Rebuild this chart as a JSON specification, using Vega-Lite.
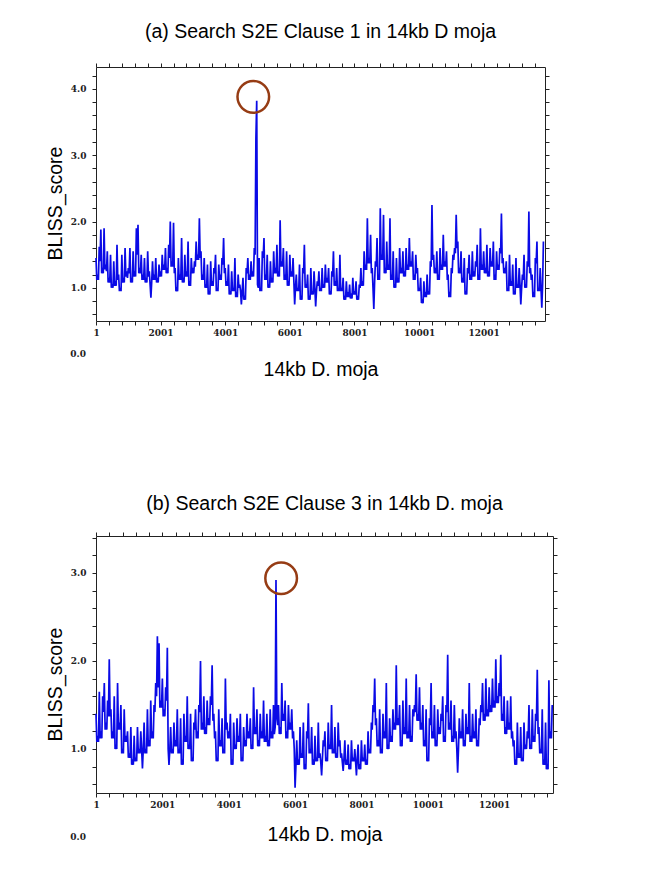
{
"$schema": "https://vega.github.io/schema/vega-lite/v6.json",
"background": "white",
"padding": {"left": 44, "top": 21, "right": 10, "bottom": 5},
"spacing": 114,
"config": {
  "view": {"stroke": "#222", "strokeWidth": 1},
  "axis": {"grid": false, "domain": false, "tickColor": "#222", "tickSize": 4, "labelFont": "DejaVu Serif", "labelFontWeight": "bold", "labelFontSize": 9, "labelColor": "#222", "titleFont": "Liberation Sans", "titleFontWeight": "normal", "titleFontSize": 19.5, "titleColor": "#000"},
  "title": {"font": "Liberation Sans", "fontSize": 19.5, "fontWeight": "normal", "color": "#000"}
},
"datasets": {
"a": [
{"pos":1,"score":1.45},{"pos":51,"score":1.2},{"pos":101,"score":1.62},{"pos":151,"score":1.88},{"pos":201,"score":1.3},{"pos":251,"score":1.9},{"pos":301,"score":1.35},{"pos":351,"score":1.55},
{"pos":401,"score":1.15},{"pos":451,"score":1.5},{"pos":501,"score":1.05},{"pos":551,"score":1.4},{"pos":601,"score":1.1},{"pos":651,"score":1.65},{"pos":701,"score":1.2},{"pos":751,"score":1.0},{"pos":801,"score":1.5},{"pos":851,"score":1.15},{"pos":901,"score":1.6},{"pos":951,"score":1.25},
{"pos":1001,"score":1.3},{"pos":1051,"score":1.6},{"pos":1101,"score":1.15},{"pos":1151,"score":1.55},{"pos":1201,"score":1.25},{"pos":1251,"score":1.9},{"pos":1301,"score":1.95},{"pos":1351,"score":1.3},
{"pos":1401,"score":1.5},{"pos":1451,"score":1.2},{"pos":1501,"score":1.45},{"pos":1551,"score":1.15},{"pos":1601,"score":1.55},{"pos":1651,"score":1.25},
{"pos":1701,"score":0.85},
{"pos":1751,"score":1.4},{"pos":1801,"score":1.2},{"pos":1851,"score":1.45},{"pos":1901,"score":1.15},{"pos":1951,"score":1.35},{"pos":2001,"score":1.25},{"pos":2051,"score":1.5},
{"pos":2101,"score":1.35},{"pos":2151,"score":1.6},{"pos":2201,"score":1.3},{"pos":2251,"score":1.65},{"pos":2301,"score":2.0},{"pos":2351,"score":1.4},{"pos":2401,"score":1.98},
{"pos":2451,"score":1.3},{"pos":2501,"score":0.98},{"pos":2551,"score":1.45},{"pos":2601,"score":1.2},{"pos":2651,"score":1.75},{"pos":2701,"score":1.15},{"pos":2751,"score":1.5},{"pos":2801,"score":1.25},{"pos":2851,"score":1.7},{"pos":2901,"score":1.1},{"pos":2951,"score":1.45},{"pos":3001,"score":1.3},
{"pos":3051,"score":1.4},{"pos":3101,"score":1.7},{"pos":3151,"score":1.5},{"pos":3201,"score":2.05},{"pos":3251,"score":1.55},
{"pos":3301,"score":1.2},{"pos":3351,"score":1.45},{"pos":3401,"score":1.05},{"pos":3451,"score":1.35},{"pos":3501,"score":0.95},{"pos":3551,"score":1.4},{"pos":3601,"score":1.1},{"pos":3651,"score":1.3},{"pos":3701,"score":1.5},{"pos":3751,"score":1.0},{"pos":3801,"score":1.35},
{"pos":3851,"score":1.2},{"pos":3901,"score":1.45},{"pos":3951,"score":1.75},{"pos":4001,"score":1.3},
{"pos":4051,"score":1.1},{"pos":4101,"score":1.35},{"pos":4151,"score":0.95},{"pos":4201,"score":1.25},{"pos":4251,"score":1.0},{"pos":4301,"score":1.45},{"pos":4351,"score":0.9},{"pos":4401,"score":1.2},{"pos":4451,"score":1.05},{"pos":4501,"score":0.75},{"pos":4551,"score":1.15},{"pos":4601,"score":0.85},
{"pos":4651,"score":1.3},{"pos":4701,"score":1.45},{"pos":4751,"score":1.2},{"pos":4801,"score":1.4},{"pos":4851,"score":1.25},{"pos":4901,"score":1.6},
{"pos":4951,"score":3.25},{"pos":4976,"score":3.82},
{"pos":5001,"score":1.05},{"pos":5051,"score":1.45},{"pos":5101,"score":1.0},{"pos":5151,"score":1.55},{"pos":5201,"score":1.75},{"pos":5251,"score":1.2},{"pos":5301,"score":1.5},{"pos":5351,"score":1.05},{"pos":5401,"score":1.4},{"pos":5451,"score":1.15},{"pos":5501,"score":1.55},
{"pos":5551,"score":1.3},{"pos":5601,"score":1.65},{"pos":5651,"score":1.25},{"pos":5701,"score":2.02},{"pos":5751,"score":1.4},{"pos":5801,"score":1.6},
{"pos":5851,"score":1.2},{"pos":5901,"score":1.55},{"pos":5951,"score":1.1},{"pos":6001,"score":1.5},{"pos":6051,"score":1.25},{"pos":6101,"score":1.45},{"pos":6151,"score":0.75},{"pos":6201,"score":1.2},
{"pos":6251,"score":1.0},{"pos":6301,"score":1.35},{"pos":6351,"score":0.85},{"pos":6401,"score":1.3},{"pos":6451,"score":1.65},{"pos":6501,"score":1.05},
{"pos":6551,"score":1.2},{"pos":6601,"score":0.85},{"pos":6651,"score":1.3},{"pos":6701,"score":0.95},{"pos":6751,"score":1.25},{"pos":6801,"score":0.72},{"pos":6851,"score":1.1},
{"pos":6901,"score":1.25},{"pos":6951,"score":1.0},{"pos":7001,"score":1.3},{"pos":7051,"score":1.05},{"pos":7101,"score":1.35},{"pos":7151,"score":1.15},{"pos":7201,"score":1.3},{"pos":7251,"score":0.95},{"pos":7301,"score":1.25},{"pos":7351,"score":1.55},{"pos":7401,"score":1.1},{"pos":7451,"score":1.3},{"pos":7501,"score":1.0},{"pos":7551,"score":1.5},
{"pos":7601,"score":1.0},{"pos":7651,"score":1.15},{"pos":7701,"score":0.85},{"pos":7751,"score":1.1},{"pos":7801,"score":0.9},{"pos":7851,"score":1.05},{"pos":7901,"score":0.88},{"pos":7951,"score":1.15},{"pos":8001,"score":0.95},{"pos":8051,"score":1.1},{"pos":8101,"score":0.85},{"pos":8151,"score":1.05},
{"pos":8201,"score":1.3},{"pos":8251,"score":1.1},{"pos":8301,"score":1.55},{"pos":8351,"score":1.35},{"pos":8401,"score":2.05},{"pos":8451,"score":1.45},{"pos":8501,"score":1.8},{"pos":8551,"score":1.3},
{"pos":8601,"score":0.68},
{"pos":8651,"score":1.4},{"pos":8701,"score":1.75},{"pos":8751,"score":1.2},{"pos":8801,"score":2.2},{"pos":8851,"score":1.5},{"pos":8901,"score":2.1},{"pos":8951,"score":1.3},{"pos":9001,"score":1.7},
{"pos":9051,"score":1.35},{"pos":9101,"score":2.05},{"pos":9151,"score":1.2},{"pos":9201,"score":1.55},{"pos":9251,"score":1.05},{"pos":9301,"score":1.45},{"pos":9351,"score":1.15},{"pos":9401,"score":1.6},
{"pos":9451,"score":1.3},{"pos":9501,"score":1.55},{"pos":9551,"score":1.25},{"pos":9601,"score":1.6},{"pos":9651,"score":1.35},{"pos":9701,"score":1.75},{"pos":9751,"score":1.4},{"pos":9801,"score":1.55},{"pos":9851,"score":1.2},{"pos":9901,"score":1.5},{"pos":9951,"score":1.3},
{"pos":10001,"score":1.0},{"pos":10051,"score":1.15},{"pos":10101,"score":0.8},{"pos":10151,"score":1.1},{"pos":10201,"score":0.9},{"pos":10251,"score":1.2},{"pos":10301,"score":0.95},
{"pos":10351,"score":1.4},{"pos":10401,"score":2.25},{"pos":10451,"score":1.5},
{"pos":10501,"score":1.3},{"pos":10551,"score":1.55},{"pos":10601,"score":1.2},{"pos":10651,"score":1.6},{"pos":10701,"score":1.35},{"pos":10751,"score":1.8},{"pos":10801,"score":1.4},{"pos":10851,"score":1.55},{"pos":10901,"score":1.2},{"pos":10951,"score":0.9},{"pos":11001,"score":1.3},{"pos":11051,"score":1.5},
{"pos":11101,"score":1.6},{"pos":11151,"score":2.1},{"pos":11201,"score":1.7},
{"pos":11251,"score":1.3},{"pos":11301,"score":1.55},{"pos":11351,"score":1.15},{"pos":11401,"score":1.45},{"pos":11451,"score":0.95},{"pos":11501,"score":1.3},{"pos":11551,"score":1.5},{"pos":11601,"score":1.2},{"pos":11651,"score":1.55},{"pos":11701,"score":1.25},
{"pos":11751,"score":1.4},{"pos":11801,"score":1.65},{"pos":11851,"score":1.2},{"pos":11901,"score":1.9},{"pos":11951,"score":1.35},{"pos":12001,"score":1.55},
{"pos":12051,"score":1.3},{"pos":12101,"score":1.65},{"pos":12151,"score":1.25},{"pos":12201,"score":1.6},{"pos":12251,"score":1.4},{"pos":12301,"score":1.7},{"pos":12351,"score":1.2},{"pos":12401,"score":1.55},{"pos":12451,"score":1.35},{"pos":12501,"score":1.6},{"pos":12551,"score":2.12},{"pos":12601,"score":1.45},{"pos":12651,"score":1.3},
{"pos":12701,"score":1.4},{"pos":12751,"score":1.0},{"pos":12801,"score":1.5},{"pos":12851,"score":1.1},{"pos":12901,"score":1.35},{"pos":12951,"score":0.95},{"pos":13001,"score":1.45},{"pos":13051,"score":1.05},{"pos":13101,"score":1.3},{"pos":13151,"score":0.75},
{"pos":13201,"score":1.2},{"pos":13251,"score":1.5},{"pos":13301,"score":1.05},{"pos":13351,"score":1.4},{"pos":13401,"score":2.15},{"pos":13451,"score":1.3},
{"pos":13501,"score":1.2},{"pos":13551,"score":0.9},{"pos":13601,"score":1.45},{"pos":13651,"score":1.7},{"pos":13701,"score":1.0},{"pos":13751,"score":1.3},{"pos":13801,"score":0.7},{"pos":13851,"score":1.7},
{"pos":26,"score":1.12},{"pos":76,"score":1.12},{"pos":126,"score":1.4},{"pos":176,"score":1.22},{"pos":226,"score":1.22},{"pos":276,"score":1.28},{"pos":326,"score":1.25},{"pos":376,"score":1.08},{"pos":426,"score":1.08},{"pos":476,"score":1.0},
{"pos":526,"score":1.0},{"pos":576,"score":1.03},{"pos":626,"score":1.03},{"pos":676,"score":1.12},{"pos":726,"score":0.95},{"pos":776,"score":0.95},{"pos":826,"score":1.08},{"pos":876,"score":1.08},{"pos":926,"score":1.17},{"pos":976,"score":1.15},
{"pos":1026,"score":1.22},{"pos":1076,"score":1.08},{"pos":1126,"score":1.08},{"pos":1176,"score":1.17},{"pos":1226,"score":1.17},{"pos":1276,"score":1.5},{"pos":1326,"score":1.22},{"pos":1376,"score":1.22},{"pos":1426,"score":1.12},{"pos":1476,"score":1.12},
{"pos":1526,"score":1.08},{"pos":1576,"score":1.08},{"pos":1626,"score":1.17},{"pos":1676,"score":1.05},{"pos":1726,"score":1.1},{"pos":1776,"score":1.12},{"pos":1826,"score":1.12},{"pos":1876,"score":1.08},{"pos":1926,"score":1.08},{"pos":1976,"score":1.17},
{"pos":2026,"score":1.17},{"pos":2076,"score":1.27},{"pos":2126,"score":1.27},{"pos":2176,"score":1.22},{"pos":2226,"score":1.22},{"pos":2276,"score":1.45},{"pos":2326,"score":1.32},{"pos":2376,"score":1.32},{"pos":2426,"score":1.22},{"pos":2476,"score":0.95},
{"pos":2526,"score":0.95},{"pos":2576,"score":1.12},{"pos":2626,"score":1.12},{"pos":2676,"score":1.08},{"pos":2726,"score":1.08},{"pos":2776,"score":1.17},{"pos":2826,"score":1.17},{"pos":2876,"score":1.03},{"pos":2926,"score":1.03},{"pos":2976,"score":1.22},
{"pos":3026,"score":1.22},{"pos":3076,"score":1.32},{"pos":3126,"score":1.42},{"pos":3176,"score":1.42},{"pos":3226,"score":1.45},{"pos":3276,"score":1.12},{"pos":3326,"score":1.12},{"pos":3376,"score":1.0},{"pos":3426,"score":1.0},{"pos":3476,"score":0.9},
{"pos":3526,"score":0.9},{"pos":3576,"score":1.03},{"pos":3626,"score":1.03},{"pos":3676,"score":1.22},{"pos":3726,"score":0.95},{"pos":3776,"score":0.95},{"pos":3826,"score":1.12},{"pos":3876,"score":1.12},{"pos":3926,"score":1.35},{"pos":3976,"score":1.22},
{"pos":4026,"score":1.03},{"pos":4076,"score":1.03},{"pos":4126,"score":0.9},{"pos":4176,"score":0.9},{"pos":4226,"score":0.95},{"pos":4276,"score":0.95},{"pos":4326,"score":0.86},{"pos":4376,"score":0.86},{"pos":4426,"score":1.0},{"pos":4476,"score":0.95},
{"pos":4526,"score":0.95},{"pos":4576,"score":0.82},{"pos":4626,"score":0.82},{"pos":4676,"score":1.22},{"pos":4726,"score":1.12},{"pos":4776,"score":1.12},{"pos":4826,"score":1.17},{"pos":4876,"score":1.17},{"pos":4926,"score":1.5},
{"pos":5026,"score":1.0},{"pos":5076,"score":0.95},{"pos":5126,"score":0.95},{"pos":5176,"score":1.45},{"pos":5226,"score":1.12},{"pos":5276,"score":1.12},{"pos":5326,"score":1.0},{"pos":5376,"score":1.0},{"pos":5426,"score":1.08},{"pos":5476,"score":1.08},
{"pos":5526,"score":1.22},{"pos":5576,"score":1.22},{"pos":5626,"score":1.17},{"pos":5676,"score":1.17},{"pos":5726,"score":1.32},{"pos":5776,"score":1.32},{"pos":5826,"score":1.12},{"pos":5876,"score":1.12},{"pos":5926,"score":1.03},{"pos":5976,"score":1.03},
{"pos":6026,"score":1.17},{"pos":6076,"score":1.17},{"pos":6126,"score":1.1},{"pos":6176,"score":1.0},{"pos":6226,"score":0.95},{"pos":6276,"score":0.95},{"pos":6326,"score":0.82},{"pos":6376,"score":0.82},{"pos":6426,"score":1.22},{"pos":6476,"score":1.0},
{"pos":6526,"score":1.0},{"pos":6576,"score":0.82},{"pos":6626,"score":0.82},{"pos":6676,"score":0.9},{"pos":6726,"score":0.9},{"pos":6776,"score":1.0},{"pos":6826,"score":0.95},{"pos":6876,"score":1.03},{"pos":6926,"score":0.95},{"pos":6976,"score":0.95},
{"pos":7026,"score":1.0},{"pos":7076,"score":1.0},{"pos":7126,"score":1.08},{"pos":7176,"score":1.08},{"pos":7226,"score":0.9},{"pos":7276,"score":0.9},{"pos":7326,"score":1.17},{"pos":7376,"score":1.03},{"pos":7426,"score":1.03},{"pos":7476,"score":0.95},
{"pos":7526,"score":0.95},{"pos":7576,"score":0.95},{"pos":7626,"score":0.95},{"pos":7676,"score":0.82},{"pos":7726,"score":0.82},{"pos":7776,"score":0.86},{"pos":7826,"score":0.86},{"pos":7876,"score":0.84},{"pos":7926,"score":0.84},{"pos":7976,"score":0.9},
{"pos":8026,"score":0.9},{"pos":8076,"score":0.82},{"pos":8126,"score":0.82},{"pos":8176,"score":1.0},{"pos":8226,"score":1.03},{"pos":8276,"score":1.03},{"pos":8326,"score":1.27},{"pos":8376,"score":1.27},{"pos":8426,"score":1.37},{"pos":8476,"score":1.37},
{"pos":8526,"score":1.22},{"pos":8576,"score":1.0},{"pos":8626,"score":1.1},{"pos":8676,"score":1.32},{"pos":8726,"score":1.12},{"pos":8776,"score":1.12},{"pos":8826,"score":1.42},{"pos":8876,"score":1.42},{"pos":8926,"score":1.22},{"pos":8976,"score":1.22},
{"pos":9026,"score":1.27},{"pos":9076,"score":1.27},{"pos":9126,"score":1.12},{"pos":9176,"score":1.12},{"pos":9226,"score":1.0},{"pos":9276,"score":1.0},{"pos":9326,"score":1.08},{"pos":9376,"score":1.08},{"pos":9426,"score":1.22},{"pos":9476,"score":1.22},
{"pos":9526,"score":1.17},{"pos":9576,"score":1.17},{"pos":9626,"score":1.27},{"pos":9676,"score":1.27},{"pos":9726,"score":1.32},{"pos":9776,"score":1.32},{"pos":9826,"score":1.12},{"pos":9876,"score":1.12},{"pos":9926,"score":1.22},{"pos":9976,"score":0.95},
{"pos":10026,"score":0.95},{"pos":10076,"score":0.77},{"pos":10126,"score":0.77},{"pos":10176,"score":0.86},{"pos":10226,"score":0.86},{"pos":10276,"score":0.9},{"pos":10326,"score":0.9},{"pos":10376,"score":1.32},{"pos":10426,"score":1.42},{"pos":10476,"score":1.22},
{"pos":10526,"score":1.22},{"pos":10576,"score":1.12},{"pos":10626,"score":1.12},{"pos":10676,"score":1.27},{"pos":10726,"score":1.27},{"pos":10776,"score":1.32},{"pos":10826,"score":1.32},{"pos":10876,"score":1.12},{"pos":10926,"score":0.86},{"pos":10976,"score":0.86},
{"pos":11026,"score":1.22},{"pos":11076,"score":1.42},{"pos":11126,"score":1.52},{"pos":11176,"score":1.6},{"pos":11226,"score":1.22},{"pos":11276,"score":1.22},{"pos":11326,"score":1.08},{"pos":11376,"score":1.08},{"pos":11426,"score":0.9},{"pos":11476,"score":0.9},
{"pos":11526,"score":1.22},{"pos":11576,"score":1.12},{"pos":11626,"score":1.12},{"pos":11676,"score":1.17},{"pos":11726,"score":1.17},{"pos":11776,"score":1.32},{"pos":11826,"score":1.12},{"pos":11876,"score":1.12},{"pos":11926,"score":1.27},{"pos":11976,"score":1.27},
{"pos":12026,"score":1.22},{"pos":12076,"score":1.22},{"pos":12126,"score":1.17},{"pos":12176,"score":1.17},{"pos":12226,"score":1.32},{"pos":12276,"score":1.32},{"pos":12326,"score":1.12},{"pos":12376,"score":1.12},{"pos":12426,"score":1.27},{"pos":12476,"score":1.27},
{"pos":12526,"score":1.52},{"pos":12576,"score":1.37},{"pos":12626,"score":1.22},{"pos":12676,"score":1.22},{"pos":12726,"score":0.95},{"pos":12776,"score":0.95},{"pos":12826,"score":1.03},{"pos":12876,"score":1.03},{"pos":12926,"score":0.9},{"pos":12976,"score":0.9},
{"pos":13026,"score":1.0},{"pos":13076,"score":1.0},{"pos":13126,"score":1.05},{"pos":13176,"score":1.0},{"pos":13226,"score":1.12},{"pos":13276,"score":1.0},{"pos":13326,"score":1.0},{"pos":13376,"score":1.32},{"pos":13426,"score":1.22},{"pos":13476,"score":1.12},
{"pos":13526,"score":0.86},{"pos":13576,"score":0.86},{"pos":13626,"score":1.37},{"pos":13676,"score":0.95},{"pos":13726,"score":0.95},{"pos":13776,"score":1.0},{"pos":13826,"score":1.05}
],
"b": [
{"pos":1,"score":1.4},{"pos":51,"score":1.15},{"pos":101,"score":1.65},{"pos":151,"score":1.2},{"pos":201,"score":1.6},{"pos":251,"score":1.75},{"pos":301,"score":1.3},{"pos":351,"score":1.55},
{"pos":401,"score":2.02},{"pos":451,"score":1.45},
{"pos":501,"score":1.2},{"pos":551,"score":1.6},{"pos":601,"score":1.05},{"pos":651,"score":1.75},{"pos":701,"score":1.3},{"pos":751,"score":1.5},{"pos":801,"score":1.0},{"pos":851,"score":1.45},{"pos":901,"score":1.15},
{"pos":951,"score":1.2},{"pos":1001,"score":0.95},{"pos":1051,"score":1.25},{"pos":1101,"score":0.85},{"pos":1151,"score":1.15},{"pos":1201,"score":0.9},{"pos":1251,"score":1.25},{"pos":1301,"score":1.0},
{"pos":1351,"score":1.2},{"pos":1401,"score":0.78},{"pos":1451,"score":1.3},{"pos":1501,"score":1.0},{"pos":1551,"score":1.45},{"pos":1601,"score":1.1},{"pos":1651,"score":1.55},{"pos":1701,"score":1.2},
{"pos":1751,"score":1.5},{"pos":1801,"score":1.75},{"pos":1851,"score":2.28},{"pos":1901,"score":2.2},{"pos":1951,"score":1.55},{"pos":2001,"score":1.8},{"pos":2051,"score":1.45},{"pos":2101,"score":1.7},
{"pos":2151,"score":2.15},
{"pos":2201,"score":0.82},{"pos":2251,"score":1.25},{"pos":2301,"score":1.0},{"pos":2351,"score":1.3},
{"pos":2401,"score":1.1},{"pos":2451,"score":1.45},{"pos":2501,"score":1.0},{"pos":2551,"score":1.35},{"pos":2601,"score":0.85},{"pos":2651,"score":1.4},{"pos":2701,"score":1.15},{"pos":2751,"score":1.6},{"pos":2801,"score":1.05},{"pos":2851,"score":1.4},{"pos":2901,"score":0.9},{"pos":2951,"score":1.3},{"pos":3001,"score":1.45},{"pos":3051,"score":1.2},
{"pos":3101,"score":1.5},{"pos":3151,"score":2.0},
{"pos":3201,"score":1.3},{"pos":3251,"score":1.6},{"pos":3301,"score":1.25},{"pos":3351,"score":1.55},{"pos":3401,"score":1.35},{"pos":3451,"score":1.6},{"pos":3501,"score":1.95},{"pos":3551,"score":1.4},
{"pos":3601,"score":1.2},{"pos":3651,"score":0.9},{"pos":3701,"score":1.45},{"pos":3751,"score":1.1},{"pos":3801,"score":1.35},{"pos":3851,"score":1.0},{"pos":3901,"score":1.8},{"pos":3951,"score":1.3},
{"pos":4001,"score":1.2},{"pos":4051,"score":1.4},{"pos":4101,"score":0.85},{"pos":4151,"score":1.3},{"pos":4201,"score":1.05},{"pos":4251,"score":1.35},{"pos":4301,"score":1.15},{"pos":4351,"score":1.4},{"pos":4401,"score":0.9},{"pos":4451,"score":1.25},{"pos":4501,"score":1.1},{"pos":4551,"score":1.4},{"pos":4601,"score":1.2},{"pos":4651,"score":1.35},{"pos":4701,"score":1.05},{"pos":4751,"score":1.7},
{"pos":4801,"score":1.25},{"pos":4851,"score":1.45},{"pos":4901,"score":1.1},{"pos":4951,"score":1.4},{"pos":5001,"score":1.2},{"pos":5051,"score":1.55},{"pos":5101,"score":1.15},{"pos":5151,"score":1.4},{"pos":5201,"score":1.1},{"pos":5251,"score":1.45},{"pos":5301,"score":1.2},{"pos":5351,"score":1.5},{"pos":5401,"score":1.25},
{"pos":5426,"score":2.92},
{"pos":5451,"score":1.35},{"pos":5501,"score":1.5},{"pos":5551,"score":1.25},{"pos":5601,"score":1.75},{"pos":5651,"score":1.4},{"pos":5701,"score":1.55},{"pos":5751,"score":1.2},{"pos":5801,"score":1.5},{"pos":5851,"score":1.3},{"pos":5901,"score":1.45},{"pos":5951,"score":1.2},
{"pos":6001,"score":0.56},
{"pos":6051,"score":1.1},{"pos":6101,"score":0.85},{"pos":6151,"score":1.25},{"pos":6201,"score":0.95},{"pos":6251,"score":1.3},{"pos":6301,"score":0.8},{"pos":6351,"score":1.2},{"pos":6401,"score":1.52},{"pos":6451,"score":1.0},{"pos":6501,"score":1.25},{"pos":6551,"score":0.85},{"pos":6601,"score":1.15},{"pos":6651,"score":0.9},{"pos":6701,"score":1.3},{"pos":6751,"score":0.95},{"pos":6801,"score":0.7},{"pos":6851,"score":1.1},
{"pos":6901,"score":1.2},{"pos":6951,"score":0.9},{"pos":7001,"score":1.3},{"pos":7051,"score":1.05},{"pos":7101,"score":1.5},{"pos":7151,"score":1.0},{"pos":7201,"score":1.25},{"pos":7251,"score":0.95},{"pos":7301,"score":1.3},{"pos":7351,"score":1.1},
{"pos":7401,"score":0.95},{"pos":7451,"score":0.75},{"pos":7501,"score":1.1},{"pos":7551,"score":0.85},{"pos":7601,"score":1.05},{"pos":7651,"score":0.8},{"pos":7701,"score":1.1},{"pos":7751,"score":0.9},{"pos":7801,"score":1.0},{"pos":7851,"score":0.7},{"pos":7901,"score":1.05},{"pos":7951,"score":0.8},{"pos":8001,"score":1.1},{"pos":8051,"score":0.9},{"pos":8101,"score":1.05},{"pos":8151,"score":0.85},{"pos":8201,"score":1.2},{"pos":8251,"score":1.0},
{"pos":8301,"score":1.3},{"pos":8351,"score":1.5},{"pos":8401,"score":1.8},{"pos":8451,"score":1.35},
{"pos":8501,"score":1.1},{"pos":8551,"score":1.45},{"pos":8601,"score":1.0},{"pos":8651,"score":1.4},{"pos":8701,"score":1.2},{"pos":8751,"score":1.75},{"pos":8801,"score":1.05},{"pos":8851,"score":1.35},{"pos":8901,"score":1.15},{"pos":8951,"score":1.45},
{"pos":9001,"score":1.3},{"pos":9051,"score":1.95},
{"pos":9101,"score":1.35},{"pos":9151,"score":1.5},{"pos":9201,"score":1.1},{"pos":9251,"score":1.55},{"pos":9301,"score":1.25},{"pos":9351,"score":1.8},{"pos":9401,"score":1.2},{"pos":9451,"score":1.5},{"pos":9501,"score":1.15},{"pos":9551,"score":1.45},
{"pos":9601,"score":1.5},{"pos":9651,"score":1.85},{"pos":9701,"score":1.4},{"pos":9751,"score":1.7},
{"pos":9801,"score":1.3},{"pos":9851,"score":1.5},{"pos":9901,"score":1.1},{"pos":9951,"score":1.45},{"pos":10001,"score":0.9},{"pos":10051,"score":1.35},{"pos":10101,"score":1.75},{"pos":10151,"score":1.2},{"pos":10201,"score":1.5},{"pos":10251,"score":1.1},{"pos":10301,"score":1.45},{"pos":10351,"score":1.25},
{"pos":10401,"score":1.4},{"pos":10451,"score":1.6},{"pos":10501,"score":1.15},{"pos":10551,"score":1.5},{"pos":10601,"score":2.07},
{"pos":10651,"score":1.3},{"pos":10701,"score":1.55},{"pos":10751,"score":1.15},{"pos":10801,"score":1.5},{"pos":10851,"score":1.2},{"pos":10901,"score":0.73},{"pos":10951,"score":1.35},
{"pos":11001,"score":1.2},{"pos":11051,"score":1.45},{"pos":11101,"score":1.1},{"pos":11151,"score":1.4},{"pos":11201,"score":1.25},{"pos":11251,"score":1.75},{"pos":11301,"score":1.15},{"pos":11351,"score":1.4},{"pos":11401,"score":1.2},{"pos":11451,"score":1.45},{"pos":11501,"score":1.1},{"pos":11551,"score":1.35},
{"pos":11601,"score":1.5},{"pos":11651,"score":1.75},{"pos":11701,"score":1.4},{"pos":11751,"score":1.8},{"pos":11801,"score":1.45},{"pos":11851,"score":1.7},{"pos":11901,"score":1.5},{"pos":11951,"score":1.8},{"pos":12001,"score":1.55},{"pos":12051,"score":2.02},{"pos":12101,"score":1.6},{"pos":12151,"score":1.75},
{"pos":12201,"score":2.07},
{"pos":12251,"score":1.4},{"pos":12301,"score":1.6},{"pos":12351,"score":1.25},{"pos":12401,"score":1.55},{"pos":12451,"score":1.3},{"pos":12501,"score":1.6},{"pos":12551,"score":1.2},
{"pos":12601,"score":1.1},{"pos":12651,"score":0.85},{"pos":12701,"score":1.3},{"pos":12751,"score":0.95},{"pos":12801,"score":1.25},{"pos":12851,"score":0.9},{"pos":12901,"score":1.3},{"pos":12951,"score":1.05},
{"pos":13001,"score":1.2},{"pos":13051,"score":1.5},{"pos":13101,"score":1.05},{"pos":13151,"score":1.45},{"pos":13201,"score":1.15},{"pos":13251,"score":1.4},{"pos":13301,"score":1.9},{"pos":13351,"score":1.25},
{"pos":13401,"score":1.0},{"pos":13451,"score":1.45},{"pos":13501,"score":0.85},{"pos":13551,"score":1.3},{"pos":13601,"score":0.8},{"pos":13651,"score":1.78},{"pos":13701,"score":1.2},{"pos":13751,"score":1.5},
{"pos":26,"score":1.08},{"pos":76,"score":1.08},{"pos":126,"score":1.12},{"pos":176,"score":1.12},{"pos":226,"score":1.42},{"pos":276,"score":1.22},{"pos":326,"score":1.22},{"pos":376,"score":1.37},{"pos":426,"score":1.37},{"pos":476,"score":1.12},
{"pos":526,"score":1.12},{"pos":576,"score":1.0},{"pos":626,"score":1.0},{"pos":676,"score":1.22},{"pos":726,"score":1.22},{"pos":776,"score":0.95},{"pos":826,"score":0.95},{"pos":876,"score":1.08},{"pos":926,"score":1.08},{"pos":976,"score":0.9},
{"pos":1026,"score":0.9},{"pos":1076,"score":0.82},{"pos":1126,"score":0.82},{"pos":1176,"score":0.86},{"pos":1226,"score":0.86},{"pos":1276,"score":0.95},{"pos":1326,"score":0.95},{"pos":1376,"score":1.0},{"pos":1426,"score":1.0},{"pos":1476,"score":0.95},
{"pos":1526,"score":0.95},{"pos":1576,"score":1.03},{"pos":1626,"score":1.03},{"pos":1676,"score":1.12},{"pos":1726,"score":1.12},{"pos":1776,"score":1.42},{"pos":1826,"score":1.6},{"pos":1876,"score":1.7},{"pos":1926,"score":1.47},{"pos":1976,"score":1.47},
{"pos":2026,"score":1.37},{"pos":2076,"score":1.37},{"pos":2126,"score":1.55},{"pos":2176,"score":1.0},{"pos":2226,"score":1.0},{"pos":2276,"score":0.95},{"pos":2326,"score":0.95},{"pos":2376,"score":1.03},{"pos":2426,"score":1.03},{"pos":2476,"score":0.95},
{"pos":2526,"score":0.95},{"pos":2576,"score":0.82},{"pos":2626,"score":0.82},{"pos":2676,"score":1.08},{"pos":2726,"score":1.08},{"pos":2776,"score":1.0},{"pos":2826,"score":1.0},{"pos":2876,"score":0.86},{"pos":2926,"score":0.86},{"pos":2976,"score":1.22},
{"pos":3026,"score":1.12},{"pos":3076,"score":1.12},{"pos":3126,"score":1.42},{"pos":3176,"score":1.22},{"pos":3226,"score":1.22},{"pos":3276,"score":1.17},{"pos":3326,"score":1.17},{"pos":3376,"score":1.27},{"pos":3426,"score":1.27},{"pos":3476,"score":1.5},
{"pos":3526,"score":1.32},{"pos":3576,"score":1.12},{"pos":3626,"score":0.86},{"pos":3676,"score":0.86},{"pos":3726,"score":1.03},{"pos":3776,"score":1.03},{"pos":3826,"score":0.95},{"pos":3876,"score":0.95},{"pos":3926,"score":1.22},{"pos":3976,"score":1.12},
{"pos":4026,"score":1.12},{"pos":4076,"score":0.82},{"pos":4126,"score":0.82},{"pos":4176,"score":1.0},{"pos":4226,"score":1.0},{"pos":4276,"score":1.08},{"pos":4326,"score":1.08},{"pos":4376,"score":0.86},{"pos":4426,"score":0.86},{"pos":4476,"score":1.03},
{"pos":4526,"score":1.03},{"pos":4576,"score":1.12},{"pos":4626,"score":1.12},{"pos":4676,"score":1.0},{"pos":4726,"score":1.0},{"pos":4776,"score":1.17},{"pos":4826,"score":1.17},{"pos":4876,"score":1.03},{"pos":4926,"score":1.03},{"pos":4976,"score":1.12},
{"pos":5026,"score":1.12},{"pos":5076,"score":1.08},{"pos":5126,"score":1.08},{"pos":5176,"score":1.03},{"pos":5226,"score":1.03},{"pos":5276,"score":1.12},{"pos":5326,"score":1.12},{"pos":5376,"score":1.17},
{"pos":5476,"score":1.27},{"pos":5526,"score":1.17},{"pos":5576,"score":1.17},{"pos":5626,"score":1.32},{"pos":5676,"score":1.32},{"pos":5726,"score":1.12},{"pos":5776,"score":1.12},{"pos":5826,"score":1.22},{"pos":5876,"score":1.22},{"pos":5926,"score":1.12},
{"pos":5976,"score":1.0},{"pos":6026,"score":0.8},{"pos":6076,"score":0.82},{"pos":6126,"score":0.82},{"pos":6176,"score":0.9},{"pos":6226,"score":0.9},{"pos":6276,"score":0.77},{"pos":6326,"score":0.77},{"pos":6376,"score":1.12},{"pos":6426,"score":0.95},
{"pos":6476,"score":0.95},{"pos":6526,"score":0.82},{"pos":6576,"score":0.82},{"pos":6626,"score":0.86},{"pos":6676,"score":0.86},{"pos":6726,"score":0.9},{"pos":6776,"score":0.85},{"pos":6826,"score":0.9},{"pos":6876,"score":1.03},{"pos":6926,"score":0.86},
{"pos":6976,"score":0.86},{"pos":7026,"score":1.0},{"pos":7076,"score":1.0},{"pos":7126,"score":0.95},{"pos":7176,"score":0.95},{"pos":7226,"score":0.9},{"pos":7276,"score":0.9},{"pos":7326,"score":1.03},{"pos":7376,"score":0.9},{"pos":7426,"score":0.85},
{"pos":7476,"score":0.9},{"pos":7526,"score":0.82},{"pos":7576,"score":0.82},{"pos":7626,"score":0.77},{"pos":7676,"score":0.77},{"pos":7726,"score":0.86},{"pos":7776,"score":0.86},{"pos":7826,"score":0.85},{"pos":7876,"score":0.9},{"pos":7926,"score":0.77},
{"pos":7976,"score":0.77},{"pos":8026,"score":0.86},{"pos":8076,"score":0.86},{"pos":8126,"score":0.82},{"pos":8176,"score":0.82},{"pos":8226,"score":0.95},{"pos":8276,"score":0.95},{"pos":8326,"score":1.22},{"pos":8376,"score":1.42},{"pos":8426,"score":1.27},
{"pos":8476,"score":1.03},{"pos":8526,"score":1.03},{"pos":8576,"score":0.95},{"pos":8626,"score":0.95},{"pos":8676,"score":1.12},{"pos":8726,"score":1.12},{"pos":8776,"score":1.0},{"pos":8826,"score":1.0},{"pos":8876,"score":1.08},{"pos":8926,"score":1.08},
{"pos":8976,"score":1.22},{"pos":9026,"score":1.22},{"pos":9076,"score":1.27},{"pos":9126,"score":1.27},{"pos":9176,"score":1.03},{"pos":9226,"score":1.03},{"pos":9276,"score":1.17},{"pos":9326,"score":1.17},{"pos":9376,"score":1.12},{"pos":9426,"score":1.12},
{"pos":9476,"score":1.08},{"pos":9526,"score":1.08},{"pos":9576,"score":1.37},{"pos":9626,"score":1.42},{"pos":9676,"score":1.32},{"pos":9726,"score":1.32},{"pos":9776,"score":1.22},{"pos":9826,"score":1.22},{"pos":9876,"score":1.03},{"pos":9926,"score":1.03},
{"pos":9976,"score":0.86},{"pos":10026,"score":0.86},{"pos":10076,"score":1.27},{"pos":10126,"score":1.12},{"pos":10176,"score":1.12},{"pos":10226,"score":1.03},{"pos":10276,"score":1.03},{"pos":10326,"score":1.17},{"pos":10376,"score":1.17},{"pos":10426,"score":1.32},
{"pos":10476,"score":1.08},{"pos":10526,"score":1.08},{"pos":10576,"score":1.42},{"pos":10626,"score":1.22},{"pos":10676,"score":1.22},{"pos":10726,"score":1.08},{"pos":10776,"score":1.08},{"pos":10826,"score":1.12},{"pos":10876,"score":1.0},{"pos":10926,"score":1.0},
{"pos":10976,"score":1.12},{"pos":11026,"score":1.12},{"pos":11076,"score":1.03},{"pos":11126,"score":1.03},{"pos":11176,"score":1.17},{"pos":11226,"score":1.17},{"pos":11276,"score":1.08},{"pos":11326,"score":1.08},{"pos":11376,"score":1.12},{"pos":11426,"score":1.12},
{"pos":11476,"score":1.03},{"pos":11526,"score":1.03},{"pos":11576,"score":1.27},{"pos":11626,"score":1.42},{"pos":11676,"score":1.32},{"pos":11726,"score":1.32},{"pos":11776,"score":1.37},{"pos":11826,"score":1.37},{"pos":11876,"score":1.42},{"pos":11926,"score":1.42},
{"pos":11976,"score":1.47},{"pos":12026,"score":1.47},{"pos":12076,"score":1.52},{"pos":12126,"score":1.52},{"pos":12176,"score":1.6},{"pos":12226,"score":1.32},{"pos":12276,"score":1.32},{"pos":12326,"score":1.17},{"pos":12376,"score":1.17},{"pos":12426,"score":1.22},
{"pos":12476,"score":1.22},{"pos":12526,"score":1.12},{"pos":12576,"score":1.03},{"pos":12626,"score":0.82},{"pos":12676,"score":0.82},{"pos":12726,"score":0.9},{"pos":12776,"score":0.9},{"pos":12826,"score":0.86},{"pos":12876,"score":0.86},{"pos":12926,"score":1.0},
{"pos":12976,"score":1.0},{"pos":13026,"score":1.12},{"pos":13076,"score":1.0},{"pos":13126,"score":1.0},{"pos":13176,"score":1.08},{"pos":13226,"score":1.08},{"pos":13276,"score":1.32},{"pos":13326,"score":1.17},{"pos":13376,"score":0.95},{"pos":13426,"score":0.95},
{"pos":13476,"score":0.82},{"pos":13526,"score":0.82},{"pos":13576,"score":0.77},{"pos":13626,"score":0.77},{"pos":13676,"score":1.12},{"pos":13726,"score":1.12}
],
"ca": [{"pos": 4870, "score": 3.88}],
"cb": [{"pos": 5581, "score": 2.94}]
},
"vconcat": [
{
  "width": 449, "height": 254,
  "title": {"text": "(a) Search S2E Clause 1 in 14kb D moja", "offset": 20},
  "layer": [
    {"data": {"name": "a"},
     "mark": {"type": "line", "color": "#0a0ae6", "strokeWidth": 1.7},
     "encoding": {
       "x": {"field": "pos", "type": "quantitative", "scale": {"domain": [1, 13900], "nice": false, "zero": false},
             "axis": {"orient": "bottom", "values": [1,401,801,1201,1601,2001,2401,2801,3201,3601,4001,4401,4801,5201,5601,6001,6401,6801,7201,7601,8001,8401,8801,9201,9601,10001,10401,10801,11201,11601,12001,12401,12801,13201,13601],
                      "labelExpr": "(datum.value - 1) % 2000 === 0 ? format(datum.value, 'd') : ''", "labelOverlap": false, "labelFlush": false, "labelPadding": 3,
                      "title": "14kb D. moja", "titlePadding": 23}},
       "y": {"field": "score", "type": "quantitative", "scale": {"domain": [0.5, 4.33], "nice": false, "zero": false},
             "axis": {"orient": "left", "values": [0.6,0.8,1,1.2,1.4,1.6,1.8,2,2.2,2.4,2.6,2.8,3,3.2,3.4,3.6,3.8,4,4.2],
                      "labelExpr": "round(datum.value * 10) % 10 === 0 ? format(datum.value, '.1f') : ''", "labelOverlap": false, "labelFlush": false, "labelPadding": 6,
                      "title": "BLISS_score", "titlePadding": 5, "titleY": 136}}
     }},
    {"data": {"values": [{}]},
     "mark": {"type": "text", "text": "0.0", "align": "right", "baseline": "middle", "dx": -10, "font": "DejaVu Serif", "fontWeight": "bold", "fontSize": 9, "color": "#222", "clip": false},
     "encoding": {
       "x": {"datum": 1, "type": "quantitative", "axis": null},
       "y": {"datum": 0, "type": "quantitative", "axis": null}
     }},
    {"data": {"name": "ca"},
     "mark": {"type": "point", "shape": "circle", "filled": false, "stroke": "#963c14", "strokeWidth": 2.5, "size": 1000, "opacity": 1, "clip": false},
     "encoding": {
       "x": {"field": "pos", "type": "quantitative", "axis": {"orient": "top", "values": [1,401,801,1201,1601,2001,2401,2801,3201,3601,4001,4401,4801,5201,5601,6001,6401,6801,7201,7601,8001,8401,8801,9201,9601,10001,10401,10801,11201,11601,12001,12401,12801,13201,13601], "labels": false, "title": null}},
       "y": {"field": "score", "type": "quantitative", "axis": {"orient": "right", "values": [0.6,0.8,1,1.2,1.4,1.6,1.8,2,2.2,2.4,2.6,2.8,3,3.2,3.4,3.6,3.8,4,4.2], "labels": false, "title": null}}
     }}
  ],
  "resolve": {"axis": {"x": "independent", "y": "independent"}}
},
{
  "width": 457, "height": 257,
  "title": {"text": "(b) Search S2E Clause 3 in 14kb D. moja", "offset": 17},
  "layer": [
    {"data": {"name": "b"},
     "mark": {"type": "line", "color": "#0a0ae6", "strokeWidth": 1.7},
     "encoding": {
       "x": {"field": "pos", "type": "quantitative", "scale": {"domain": [1, 13775], "nice": false, "zero": false},
             "axis": {"orient": "bottom", "values": [1,401,801,1201,1601,2001,2401,2801,3201,3601,4001,4401,4801,5201,5601,6001,6401,6801,7201,7601,8001,8401,8801,9201,9601,10001,10401,10801,11201,11601,12001,12401,12801,13201,13601],
                      "labelExpr": "(datum.value - 1) % 2000 === 0 ? format(datum.value, 'd') : ''", "labelOverlap": false, "labelFlush": false, "labelPadding": 3,
                      "title": "14kb D. moja", "titlePadding": 16}},
       "y": {"field": "score", "type": "quantitative", "scale": {"domain": [0.5, 3.42], "nice": false, "zero": false},
             "axis": {"orient": "left", "values": [0.6,0.8,1,1.2,1.4,1.6,1.8,2,2.2,2.4,2.6,2.8,3,3.2,3.4],
                      "labelExpr": "round(datum.value * 10) % 10 === 0 ? format(datum.value, '.1f') : ''", "labelOverlap": false, "labelFlush": false, "labelPadding": 6,
                      "title": "BLISS_score", "titlePadding": 5, "titleY": 148}}
     }},
    {"data": {"values": [{}]},
     "mark": {"type": "text", "text": "0.0", "align": "right", "baseline": "middle", "dx": -10, "font": "DejaVu Serif", "fontWeight": "bold", "fontSize": 9, "color": "#222", "clip": false},
     "encoding": {
       "x": {"datum": 1, "type": "quantitative", "axis": null},
       "y": {"datum": 0, "type": "quantitative", "axis": null}
     }},
    {"data": {"name": "cb"},
     "mark": {"type": "point", "shape": "circle", "filled": false, "stroke": "#963c14", "strokeWidth": 2.5, "size": 1000, "opacity": 1, "clip": false},
     "encoding": {
       "x": {"field": "pos", "type": "quantitative", "axis": {"orient": "top", "values": [1,401,801,1201,1601,2001,2401,2801,3201,3601,4001,4401,4801,5201,5601,6001,6401,6801,7201,7601,8001,8401,8801,9201,9601,10001,10401,10801,11201,11601,12001,12401,12801,13201,13601], "labels": false, "title": null}},
       "y": {"field": "score", "type": "quantitative", "axis": {"orient": "right", "values": [0.6,0.8,1,1.2,1.4,1.6,1.8,2,2.2,2.4,2.6,2.8,3,3.2,3.4], "labels": false, "title": null}}
     }}
  ],
  "resolve": {"axis": {"x": "independent", "y": "independent"}}
}
]
}
